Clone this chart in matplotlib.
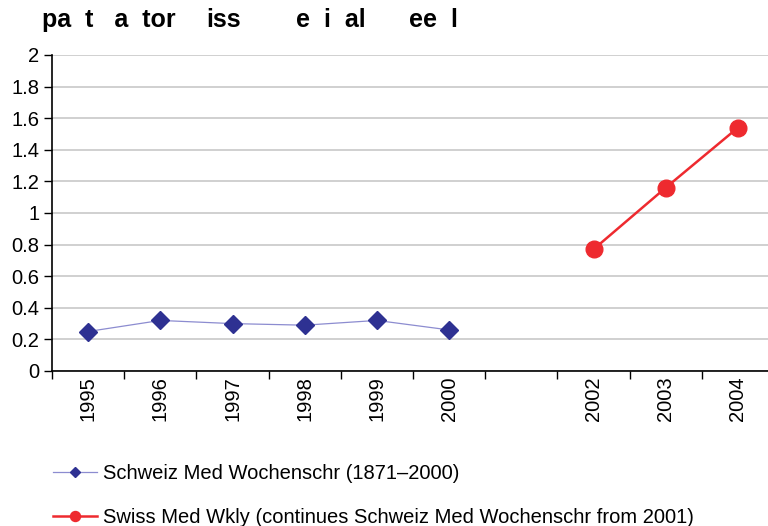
import matplotlib.pyplot as plt
import numpy as np

plt.rcParams['font.family'] = ['Liberation Sans', 'DejaVu Sans']

# categories (2001 left empty as in the original)
years = ['1995', '1996', '1997', '1998', '1999', '2000', '', '2002', '2003', '2004']
schweiz_years = ['1995', '1996', '1997', '1998', '1999', '2000']
schweiz_if = [0.25, 0.32, 0.30, 0.29, 0.32, 0.26]
swiss_years = ['2002', '2003', '2004']
swiss_if = [0.77, 1.16, 1.54]

# title as it shows in the source (glyphs missing)
title_words = ['pa  t   a  tor', 'iss', 'e  i  al', 'ee  l']
title_x = [42, 206, 296, 409]

x1 = [years.index(y) for y in schweiz_years]
x2 = [years.index(y) for y in swiss_years]

fig = plt.figure(figsize=(7.68, 5.26), dpi=100)
ax = fig.add_axes([52 / 768, 155 / 526, 722 / 768, 316 / 526])

ax.plot(x1, schweiz_if, color='#8c8cd0', linewidth=0.9, marker='D', markersize=9,
        markerfacecolor='#2e3192', markeredgecolor='#2e3192',
        label='Schweiz Med Wochenschr (1871\u20132000)')
ax.plot(x2, swiss_if, color='#ee2a2f', linewidth=1.8, marker='o', markersize=12,
        markerfacecolor='#ee2a2f', markeredgecolor='#ee2a2f',
        label='Swiss Med Wkly (continues Schweiz Med Wochenschr from 2001)')

ax.set_xlim(-0.5, len(years) - 0.5)
ax.set_ylim(0, 2)
ax.set_yticks(np.arange(0, 2.01, 0.2))
ax.set_yticklabels(['0', '0.2', '0.4', '0.6', '0.8', '1', '1.2', '1.4', '1.6', '1.8', '2'])
ax.yaxis.grid(True, color='#c8c8c8', linewidth=1.2)
ax.set_axisbelow(True)

# boundary ticks between categories, labels in the middle
ax.set_xticks(np.arange(-0.5, len(years), 1.0))
ax.set_xticklabels([])
ax.set_xticks(np.arange(len(years)), minor=True)
ax.set_xticklabels(years, minor=True, rotation=90, fontsize=14.5)
ax.tick_params(axis='x', which='minor', length=0, pad=4)
ax.tick_params(axis='x', which='major', length=6, width=1)
ax.tick_params(axis='y', length=6, width=1, labelsize=14.5, pad=3)

for s in ['top', 'right']:
    ax.spines[s].set_visible(False)
ax.spines['left'].set_linewidth(1.2)
ax.spines['bottom'].set_linewidth(1.2)

for w, xp in zip(title_words, title_x):
    fig.text(xp / 768, 1 - 20 / 526, w, fontsize=18, fontweight='bold',
             va='center', ha='left')

fig.legend(loc='lower left', bbox_to_anchor=(35 / 768, -0.036), frameon=False,
           fontsize=14.5, labelspacing=1.25, handlelength=2.2, handletextpad=0.3,
           markerscale=0.6)

plt.savefig('out.png')
